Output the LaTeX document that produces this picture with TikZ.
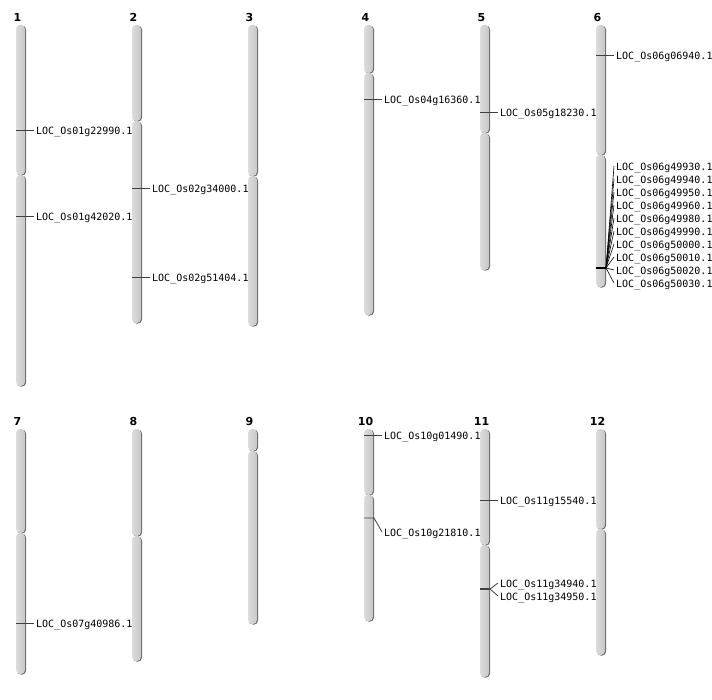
\documentclass[tikz,border=0pt]{standalone}
\usepackage{fontspec}
\setmainfont{DejaVu Sans}
\setmonofont{DejaVu Sans Mono}
\begin{document}
\begin{tikzpicture}[x=1pt,y=-1pt,
        arm/.style={left color=gray!27,right color=gray!44,rounded corners=4pt},
        armshadow/.style={fill=black!60,rounded corners=4pt},
        chrnum/.style={font=\fontsize{11}{11}\selectfont\bfseries,anchor=base,inner sep=0pt},
        gene/.style={font=\fontsize{10}{10}\ttfamily,anchor=west,inner ysep=1pt,inner xsep=2pt,text height=9.3pt,text depth=0pt},
        tick/.style={black!75,line width=0.8pt}]
    \useasboundingbox (0,0) rectangle (712,700);
    % chromosomes: number/left/top/centromere/bottom
    \foreach \ch/\px/\tp/\cn/\bt in {1/16/25/175/386,2/132/25/121/323,3/248/25/176/326,
        4/364/25/73/315,5/480/25/133/270,6/596/25/155/287,7/16/429/533/674,8/132/429/536/661,
        9/248/429/451/624,10/364/429/495/621,11/480/429/545/677,12/596/429/529/655} {
        \fill[armshadow] (\px+1,\tp+0.6) rectangle (\px+10,\cn+0.6);
        \fill[armshadow] (\px+1,\cn+0.6) rectangle (\px+10,\bt+0.6);
        \shade[arm] (\px,\tp) rectangle (\px+9,\cn);
        \shade[arm] (\px,\cn) rectangle (\px+9,\bt);
        \node[chrnum] (chr\ch) at (\px+1.5,\tp-3.5) {\ch};
    }
    % single genes: chromosome/left/position/id
    \foreach \ch/\px/\py/\id in {01/16/130/22990,01/16/216/42020,02/132/188/34000,02/132/277/51404,
        04/364/99/16360,05/480/112/18230,06/596/55/06940,07/16/623/40986,10/364/435/01490,11/480/500/15540} {
        \coordinate (m\ch g\id) at (\px,\py);
        \node[gene] (os\ch g\id) at (\px+18,\py) {LOC\_Os\ch g\id.1};
        \draw[tick] (m\ch g\id) -- (os\ch g\id.west);
    }
    % cluster on chromosome 6
    \coordinate (m06) at (596,268);
    \coordinate (k06) at (606,268);
    \draw[tick,black,line width=1.6pt] (m06) -- (k06);
    \foreach \id [count=\i from 0] in {49930,49940,49950,49960,49980,49990,50000,50010,50020,50030} {
        \node[gene] (os06g\id) at (614,166+13*\i) {LOC\_Os06g\id.1};
        \draw[tick,black,line width=0.6pt] (k06) -- (os06g\id.west);
    }
    % chromosome 10
    \coordinate (m10) at (364,518);
    \coordinate (k10) at (374,518);
    \node[gene] (os10g21810) at (382,532) {LOC\_Os10g21810.1};
    \draw[tick] (m10) -- (k10) -- (os10g21810.west);
    % chromosome 11
    \coordinate (m11) at (480,589);
    \coordinate (k11) at (490,589);
    \draw[tick,line width=1.4pt] (m11) -- (k11);
    \foreach \id [count=\i from 0] in {34940,34950} {
        \node[gene] (os11g\id) at (498,583+13*\i) {LOC\_Os11g\id.1};
        \draw[tick] (k11) -- (os11g\id.west);
    }
\end{tikzpicture}
\end{document}
